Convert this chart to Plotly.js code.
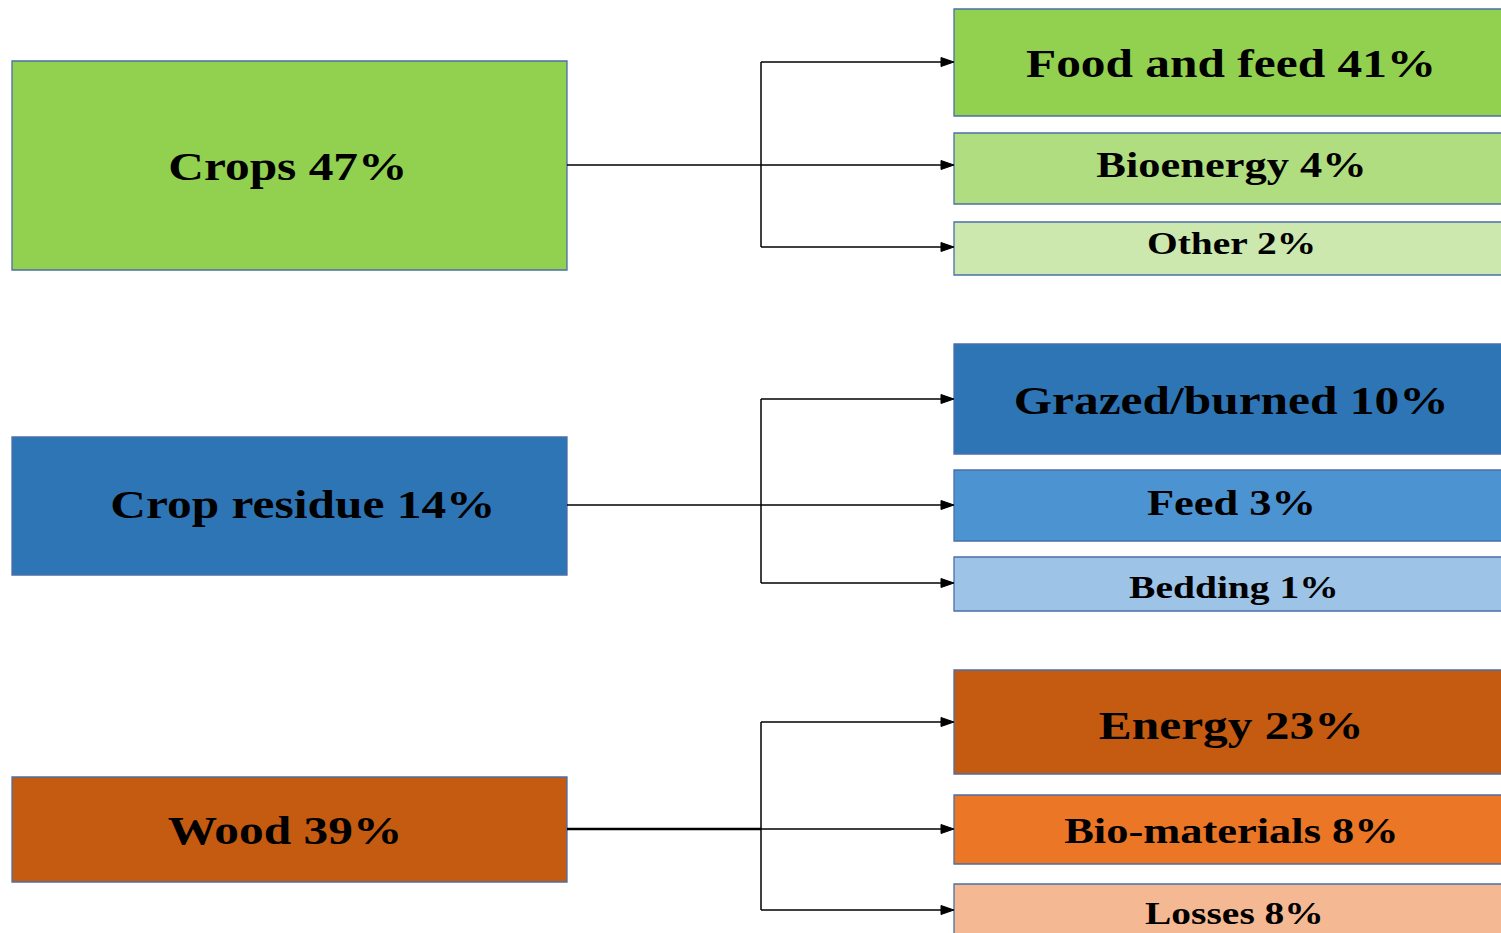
<!DOCTYPE html>
<html>
<head>
<meta charset="utf-8">
<script src="https://cdn.plot.ly/plotly-3.0.1.min.js"></script>
<style>
  html, body { margin: 0; padding: 0; background: #ffffff; }
  #chart { width: 1501px; height: 933px; }
  /* wide serif lettering used in the boxes */
  #chart text.annotation-text {
    transform-box: fill-box;
    transform-origin: center;
    transform: scaleX(1.235);
  }
</style>
</head>
<body>
<div id="chart"></div>
<script>
// Biomass sources and their shares (%)
const sources = ['Crops', 'Crop residue', 'Wood'];
const sourceShares = [47, 14, 39];

// End uses of each source and their shares (%)
const cropUses = ['Food and feed', 'Bioenergy', 'Other'];
const cropUseShares = [41, 4, 2];
const residueUses = ['Grazed/burned', 'Feed', 'Bedding'];
const residueUseShares = [10, 3, 1];
const woodUses = ['Energy', 'Bio-materials', 'Losses'];
const woodUseShares = [23, 8, 8];

const useNames = [cropUses, residueUses, woodUses];
const useShares = [cropUseShares, residueUseShares, woodUseShares];

// ---- layout of the diagram (pixel space of the canvas) ----
const W = 1501, H = 933;
const sourceBoxX = [12, 567];
const sourceBoxY = [[61, 270], [437, 575], [777, 882]];
const sourceTextX = [288, 303, 285];
const sourceTextY = [166.5, 504.5, 830];
const useBoxX = [954, 1515];
const useBoxY = [
  [[9, 116], [133, 204], [222, 275]],
  [[344, 454], [470, 541], [557, 611]],
  [[670, 774], [795, 864], [884, 950]]
];
const useTextX = [[1231, 1231, 1231], [1231, 1231, 1234], [1231, 1231, 1234]];
const useTextY = [[63.5, 164.5, 243], [400, 503, 586.5], [725.5, 831, 913]];
const branchY = [[62, 165, 247], [399, 505, 583], [722, 829, 910]];
const sourceLineY = [165, 505, 829];
const trunkX = 761;
const headLen = 13, headHalf = 4.5;

const sourceFill = ['#92D050', '#2E75B6', '#C55A11'];
const useFill = [
  ['#92D050', '#B0DD80', '#CCE8AE'],
  ['#2E75B6', '#4C93D2', '#9DC3E6'],
  ['#C55A11', '#EB7626', '#F4B992']
];
const useFont = [40, 36, 32];
const sourceFont = 40;
const borderColor = '#4A6FA8';
const textFont = 'Liberation Serif, Times New Roman, serif';

const shapes = [];
const annotations = [];

function box(x0, x1, y0, y1, fill) {
  shapes.push({
    type: 'rect', xref: 'x', yref: 'y', x0, x1, y0, y1,
    fillcolor: fill, line: { color: borderColor, width: 1.3 }, layer: 'below'
  });
}
function label(x, y, text, size) {
  annotations.push({
    xref: 'x', yref: 'y', x, y, text: '<b>' + text + '</b>',
    showarrow: false, xanchor: 'center', yanchor: 'middle',
    font: { family: textFont, size, color: '#000000' }
  });
}
function line(x0, y0, x1, y1, w) {
  shapes.push({
    type: 'line', xref: 'x', yref: 'y', x0, y0, x1, y1,
    line: { color: '#000000', width: w }
  });
}
function arrowHead(xTip, y) {
  shapes.push({
    type: 'path', xref: 'x', yref: 'y',
    path: `M${xTip - headLen},${y - headHalf} L${xTip},${y} L${xTip - headLen},${y + headHalf} Z`,
    fillcolor: '#000000', line: { color: '#000000', width: 1 }
  });
}

sources.forEach((name, i) => {
  // source box
  box(sourceBoxX[0], sourceBoxX[1], sourceBoxY[i][0], sourceBoxY[i][1], sourceFill[i]);
  label(sourceTextX[i], sourceTextY[i], `${name} ${sourceShares[i]}%`, sourceFont);

  // connector: source -> trunk, trunk spanning the branches
  line(sourceBoxX[1], sourceLineY[i], trunkX, sourceLineY[i], i === 2 ? 2.6 : 1.5);
  line(trunkX, branchY[i][0], trunkX, branchY[i][2], 1.5);

  useNames[i].forEach((u, j) => {
    const [y0, y1] = useBoxY[i][j];
    box(useBoxX[0], useBoxX[1], y0, y1, useFill[i][j]);
    label(useTextX[i][j], useTextY[i][j], `${u} ${useShares[i][j]}%`, useFont[j]);
    line(trunkX, branchY[i][j], useBoxX[0] - headLen + 1, branchY[i][j], 1.5);
    arrowHead(useBoxX[0], branchY[i][j]);
  });
});

const layout = {
  width: W, height: H,
  margin: { l: 0, r: 0, t: 0, b: 0 },
  paper_bgcolor: '#ffffff', plot_bgcolor: '#ffffff',
  showlegend: false,
  xaxis: { range: [0, W], visible: false, fixedrange: true },
  yaxis: { range: [H, 0], visible: false, fixedrange: true },
  shapes, annotations
};

Plotly.newPlot('chart', [], layout, { displayModeBar: false, staticPlot: true });
</script>
</body>
</html>
